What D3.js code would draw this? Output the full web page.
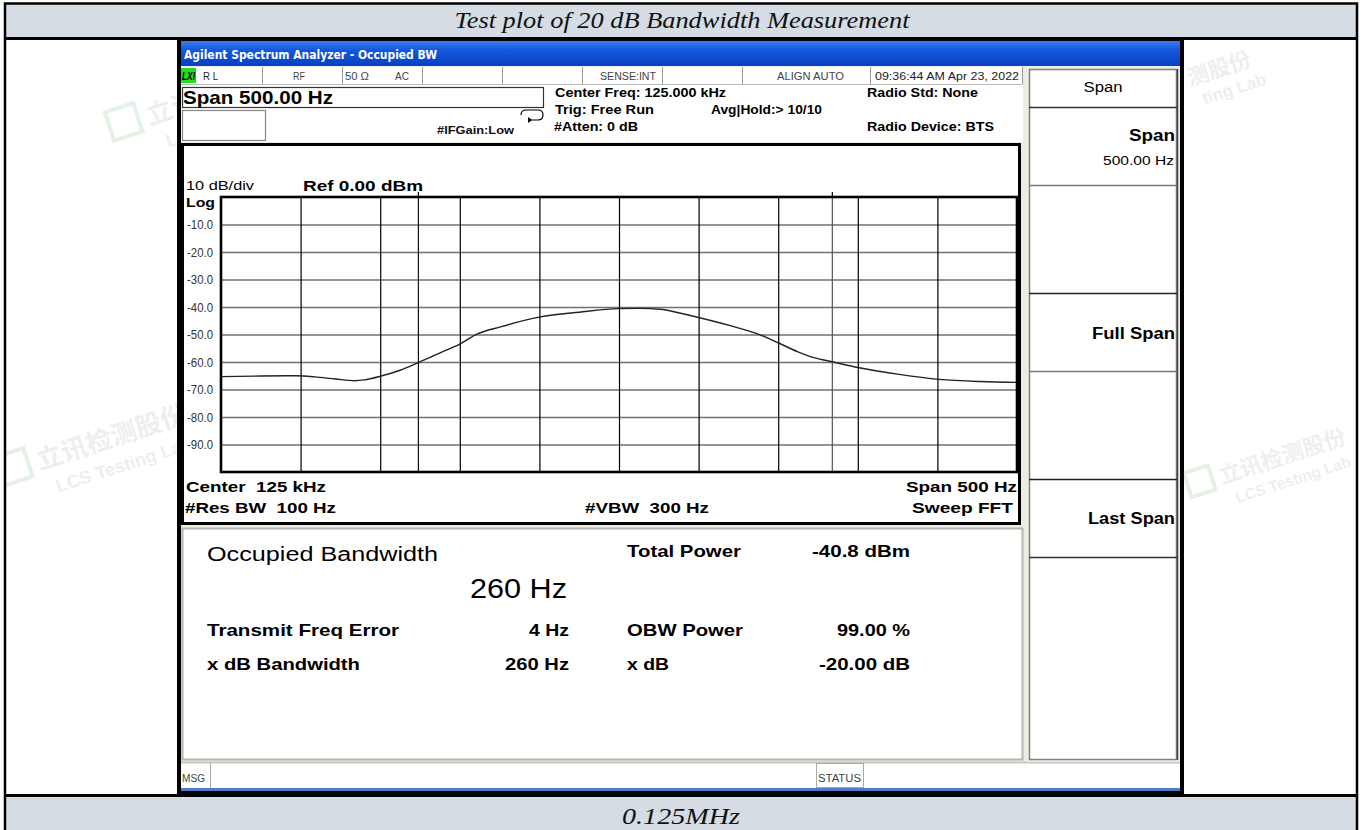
<!DOCTYPE html>
<html>
<head>
<meta charset="utf-8">
<script src="https://cdn.jsdelivr.net/npm/d3@7/dist/d3.min.js"></script>
<style>
html,body{margin:0;padding:0;background:#fff;}
svg{display:block;}
text{font-family:"Liberation Sans",Arial,sans-serif;white-space:pre;}
</style>
</head>
<body>
<svg id="c" width="1365" height="830"></svg>
<script>
// ---------------- DATA ----------------
const centerFreqKHz = 125;
const spanHz = 500;
const freqOffsetHz = [-250,-225,-203,-191,-178,-166,-160,-150,-138,-126,-112,-100,-89,-75,-50,-25,0,13,26,38,50,70,89,100,112,123,134,150,176,201,227,250];
const levelDbm     = [-65.3,-65.1,-65.0,-65.4,-66.2,-66.8,-66.5,-65.2,-63.1,-60.2,-56.6,-53.5,-49.8,-47.3,-43.7,-41.9,-40.6,-40.5,-40.8,-42.2,-43.8,-46.8,-50.2,-53.0,-56.2,-58.5,-59.9,-62.0,-64.5,-66.3,-67.1,-67.4];
const yTickValues  = [-10,-20,-30,-40,-50,-60,-70,-80,-90];
const xGridOffsets = [-200,-150,-100,-50,0,50,100,150,200];
const obwEdgesHz   = [-126,134];
const resultLabels = ["Transmit Freq Error","x dB Bandwidth"];
const resultValues = ["4 Hz","260 Hz"];
const resultLabels2 = ["OBW Power","x dB"];
const resultValues2 = ["99.00 %","-20.00 dB"];

// ---------------- DRAW ----------------
const svg = d3.select("#c");
const defs = svg.append("defs");

function txt(g, x, y, s, o = {}) {
  const t = g.append("text").attr("x", x).attr("y", y).text(s)
    .attr("font-size", o.size || 12)
    .attr("font-weight", o.weight || "normal")
    .attr("fill", o.fill || "#000")
    .attr("text-anchor", o.anchor || "start");
  if (o.family) t.style("font-family", o.family);
  if (o.italic) t.attr("font-style", "italic");
  if (o.len) t.attr("textLength", o.len).attr("lengthAdjust", "spacingAndGlyphs");
  return t;
}

// outer document table
svg.append("rect").attr("x",0).attr("y",0).attr("width",1365).attr("height",830).attr("fill","#fff");
svg.append("rect").attr("x",4).attr("y",3).attr("width",1353).attr("height",35).attr("fill","#d5dce4");
svg.append("rect").attr("x",4).attr("y",796).attr("width",1353).attr("height",40).attr("fill","#d5dce4");

// watermarks (faint), clipped to the white side cells
defs.append("clipPath").attr("id","leftCell").append("rect").attr("x",6).attr("y",40).attr("width",171).attr("height",755);
defs.append("clipPath").attr("id","rightCell").append("rect").attr("x",1184).attr("y",40).attr("width",172).attr("height",755);
function watermark(clip,x,y,sz){
  const g = svg.append("g").attr("clip-path",`url(#${clip})`).attr("opacity",0.12)
    .append("g").attr("transform",`translate(${x},${y}) rotate(-18)`);
  g.append("rect").attr("x",-sz*1.5).attr("y",-sz).attr("width",sz*1.15).attr("height",sz*1.15).attr("fill","none").attr("stroke","#2a9a3a").attr("stroke-width",4);
  txt(g,0,0,"立讯检测股份",{size:sz,weight:"bold",fill:"#777",family:"Noto Sans CJK SC"});
  txt(g,sz*0.4,sz*1.05,"LCS Testing Lab",{size:sz*0.7,weight:"bold",fill:"#777"});
}
watermark("leftCell",40,470,26);
watermark("leftCell",150,125,26);
watermark("rightCell",1222,484,22);
// top-right partial watermark (only the visible part)
const wtr = svg.append("g").attr("opacity",0.12).attr("transform","translate(1190,86) rotate(-18)");
txt(wtr,0,0,"测股份",{size:22,weight:"bold",fill:"#777",family:"Noto Sans CJK SC"});
txt(wtr,8,22,"ting Lab",{size:17,weight:"bold",fill:"#777"});

// table lines
const tl = svg.append("g").attr("stroke","#000").attr("fill","none");
tl.append("rect").attr("x",5).attr("y",3.5).attr("width",1352).attr("height",840).attr("stroke-width",2.5);
tl.append("line").attr("x1",4).attr("x2",1358).attr("y1",38.5).attr("y2",38.5).attr("stroke-width",3);
tl.append("line").attr("x1",4).attr("x2",1358).attr("y1",795.5).attr("y2",795.5).attr("stroke-width",3);

txt(svg,682,28,"Test plot of 20 dB Bandwidth Measurement",{size:23,italic:true,anchor:"middle",family:"Liberation Serif",len:455,fill:"#111"});
txt(svg,681,824,"0.125MHz",{size:23,italic:true,anchor:"middle",family:"Liberation Serif",len:118,fill:"#111"});

// ---------- screenshot ----------
const ss = svg.append("g");
ss.append("rect").attr("x",177).attr("y",38).attr("width",1007).attr("height",758).attr("fill","#000");
const grad = defs.append("linearGradient").attr("id","tb").attr("x1",0).attr("y1",0).attr("x2",0).attr("y2",1);
grad.append("stop").attr("offset","0").attr("stop-color","#3d7cf0");
grad.append("stop").attr("offset","0.35").attr("stop-color","#1458e0");
grad.append("stop").attr("offset","1").attr("stop-color","#0840c0");
ss.append("rect").attr("x",181).attr("y",41).attr("width",999).attr("height",25).attr("fill","url(#tb)");
ss.append("rect").attr("x",181).attr("y",66).attr("width",999).attr("height",723).attr("fill","#ecebe4");
ss.append("rect").attr("x",181).attr("y",788).attr("width",999).attr("height",3).attr("fill","#4a7ccc");
txt(ss,184,59,"Agilent Spectrum Analyzer - Occupied BW",{size:12,weight:"bold",fill:"#fff",len:253,family:"DejaVu Sans"});

// status row
ss.append("rect").attr("x",181).attr("y",67).attr("width",842).attr("height",17).attr("fill","#fff");
const cellEdges = [181,262,342,422,502,582,662,742,870,1022];
const sr = ss.append("g");
sr.selectAll("line").data(cellEdges.slice(1)).join("line")
  .attr("x1",d=>d+0.5).attr("x2",d=>d+0.5).attr("y1",67).attr("y2",84).attr("stroke","#9a9a9a");
sr.append("line").attr("x1",181).attr("x2",1022).attr("y1",84.5).attr("y2",84.5).attr("stroke","#bbb");
sr.append("rect").attr("x",181).attr("y",68).attr("width",15).attr("height",15).attr("fill","#22dd22");
txt(sr,182,80,"LXI",{size:10,weight:"bold",fill:"#000",len:13,italic:true});
txt(sr,203,80,"R L",{size:10,fill:"#222",len:15});
txt(sr,293,80,"RF",{size:10,fill:"#444",len:12});
txt(sr,345,80,"50 Ω",{size:10,fill:"#444",len:24});
txt(sr,395,80,"AC",{size:10,fill:"#444",len:14});
txt(sr,600,80,"SENSE:INT",{size:10,fill:"#444",len:56});
txt(sr,777,80,"ALIGN AUTO",{size:10,fill:"#444",len:67});
txt(sr,875,80,"09:36:44 AM Apr 23, 2022",{size:10,fill:"#222",len:144});

// info area
ss.append("rect").attr("x",181).attr("y",85).attr("width",842).attr("height",57).attr("fill","#fff");
ss.append("rect").attr("x",182.5).attr("y",87.5).attr("width",361).attr("height",20).attr("fill","#fff").attr("stroke","#333").attr("stroke-width",1.2);
ss.append("rect").attr("x",182.5).attr("y",110.5).attr("width",83).attr("height",30).attr("fill","#fff").attr("stroke","#888").attr("stroke-width",1.2);
txt(ss,183,104,"Span 500.00 Hz",{size:19,weight:"bold",fill:"#000",len:150});
txt(ss,437,134,"#IFGain:Low",{size:11,weight:"bold",fill:"#111",len:77});
// loop icon
ss.append("path").attr("d","M521,115 q0,-5 5,-5 h12 q5,0 5,5 q0,5 -5,5 h-10").attr("fill","none").attr("stroke","#000").attr("stroke-width",1.2);
ss.append("path").attr("d","M528,117 l4,3 l-4,3 z").attr("fill","#000");
txt(ss,555,97,"Center Freq: 125.000 kHz",{size:12.5,weight:"bold",len:171});
txt(ss,555,114,"Trig: Free Run",{size:12.5,weight:"bold",len:99});
txt(ss,554,131,"#Atten: 0 dB",{size:12.5,weight:"bold",len:84});
txt(ss,711,114,"Avg|Hold:> 10/10",{size:12.5,weight:"bold",len:111});
txt(ss,867,97,"Radio Std: None",{size:12.5,weight:"bold",len:111});
txt(ss,867,131,"Radio Device: BTS",{size:12.5,weight:"bold",len:127});

// ---------- plot frame ----------
ss.append("rect").attr("x",182.5).attr("y",144.5).attr("width",837).attr("height",379).attr("fill","#fff").attr("stroke","#000").attr("stroke-width",3);

const x = d3.scaleLinear().domain([-spanHz/2, spanHz/2]).range([221,1017]);
const y = d3.scaleLinear().domain([0,-100]).range([197,472]);
const plot = ss.append("g");

// horizontal grid via axis
const yAxis = d3.axisLeft(y).tickValues(yTickValues).tickSize(-(x.range()[1]-x.range()[0])).tickFormat(d=>d.toFixed(1));
const ya = plot.append("g").attr("transform",`translate(${x.range()[0]},0)`).call(yAxis);
ya.select(".domain").remove();
ya.selectAll(".tick line").attr("stroke","#707070").attr("stroke-width",1.6);
ya.selectAll(".tick text").attr("x",-34).attr("text-anchor","start").attr("fill","#333")
  .attr("font-size",12).style("font-family","'Liberation Sans',Arial,sans-serif").attr("dy","0.35em")
  .attr("textLength",26).attr("lengthAdjust","spacingAndGlyphs");

// vertical grid via axis
const xAxis = d3.axisBottom(x).tickValues(xGridOffsets).tickSize(-(y.range()[1]-y.range()[0])).tickFormat("");
const xa = plot.append("g").attr("transform",`translate(0,${y.range()[1]})`).call(xAxis);
xa.select(".domain").remove();
xa.selectAll(".tick line").attr("stroke","#000").attr("stroke-width",1.2);

// OBW edge lines
plot.selectAll("line.obw").data(obwEdgesHz).join("line").attr("class","obw")
  .attr("x1",d=>x(d)).attr("x2",d=>x(d)).attr("y1",y(0)).attr("y2",y(-100))
  .attr("stroke",(d,i)=>i===0?"#111":"#555").attr("stroke-width",1.2);
plot.selectAll("line.obwtick").data(obwEdgesHz).join("line").attr("class","obwtick")
  .attr("x1",d=>x(d)).attr("x2",d=>x(d)).attr("y1",y(0)-5).attr("y2",y(0))
  .attr("stroke","#000").attr("stroke-width",1.2);

// trace
const line = d3.line().x((d,i)=>x(freqOffsetHz[i])).y(d=>y(d)).curve(d3.curveMonotoneX);
plot.append("path").datum(levelDbm).attr("d",line).attr("fill","none").attr("stroke","#222").attr("stroke-width",1.4);

// graticule border
plot.append("rect").attr("x",221).attr("y",197).attr("width",796).attr("height",275).attr("fill","none").attr("stroke","#000").attr("stroke-width",2.6);

// plot labels
txt(ss,186,190,"10 dB/div",{size:13,len:68});
txt(ss,303,191,"Ref 0.00 dBm",{size:15,weight:"bold",len:120});
txt(ss,186,207,"Log",{size:13,weight:"bold",len:29});
txt(ss,186,492,"Center  125 kHz",{size:15,weight:"bold",len:140});
txt(ss,185,513,"#Res BW  100 Hz",{size:15,weight:"bold",len:151});
txt(ss,585,513,"#VBW  300 Hz",{size:15,weight:"bold",len:124});
txt(ss,1017,492,"Span 500 Hz",{size:15,weight:"bold",anchor:"end",len:111});
txt(ss,1013,513,"Sweep FFT",{size:15,weight:"bold",anchor:"end",len:101});

// ---------- results panel ----------
ss.append("rect").attr("x",182.5).attr("y",528.5).attr("width",840).attr("height",231).attr("fill","#fff").attr("stroke","#b8b6ac").attr("stroke-width",2);
txt(ss,207,561,"Occupied Bandwidth",{size:20,len:231});
txt(ss,470,598,"260 Hz",{size:27,len:97});
txt(ss,627,557,"Total Power",{size:17,weight:"bold",len:114});
txt(ss,910,557,"-40.8 dBm",{size:17,weight:"bold",anchor:"end",len:98});
const rows = ss.append("g");
const rowY = [636,670];
resultLabels.forEach((s,i)=>txt(rows,207,rowY[i],s,{size:17,weight:"bold",len:[192,153][i]}));
resultValues.forEach((s,i)=>txt(rows,569,rowY[i],s,{size:17,weight:"bold",anchor:"end",len:[40,64][i]}));
resultLabels2.forEach((s,i)=>txt(rows,627,rowY[i],s,{size:17,weight:"bold",len:[116,42][i]}));
resultValues2.forEach((s,i)=>txt(rows,910,rowY[i],s,{size:17,weight:"bold",anchor:"end",len:[73,91][i]}));

// MSG bar
ss.append("rect").attr("x",181).attr("y",763).attr("width",999).attr("height",25).attr("fill","#fff");
ss.append("line").attr("x1",181).attr("x2",1180).attr("y1",762.5).attr("y2",762.5).attr("stroke","#c8c6bc").attr("stroke-width",2);
ss.append("line").attr("x1",210.5).attr("x2",210.5).attr("y1",763).attr("y2",788).attr("stroke","#aaa");
ss.append("rect").attr("x",816.5).attr("y",763.5).attr("width",47).attr("height",24).attr("fill","#fff").attr("stroke","#aaa");
txt(ss,182,782,"MSG",{size:10,fill:"#444",len:23});
txt(ss,818,782,"STATUS",{size:10,fill:"#444",len:43});

// ---------- softkey panel ----------
const sk = ss.append("g");
sk.append("rect").attr("x",1027).attr("y",68).attr("width",153).attr("height",694).attr("fill","#ecebe4");
sk.append("rect").attr("x",1029.5).attr("y",69.5).attr("width",147).attr("height",690).attr("fill","#fff").attr("stroke","#808080").attr("stroke-width",1.5);
const btnLines = [[107.5,"#333"],[185.5,"#777"],[293.5,"#222"],[371.5,"#777"],[479.5,"#222"],[557.5,"#333"]];
btnLines.forEach(([yy,c])=>sk.append("line").attr("x1",1029).attr("x2",1177).attr("y1",yy).attr("y2",yy).attr("stroke",c).attr("stroke-width",1.5));
sk.append("line").attr("x1",1177.5).attr("x2",1177.5).attr("y1",69).attr("y2",760).attr("stroke","#444").attr("stroke-width",1.5);
txt(sk,1103,92,"Span",{size:14,anchor:"middle",len:39});
txt(sk,1175,141,"Span",{size:16,weight:"bold",anchor:"end",len:46});
txt(sk,1174,165,"500.00 Hz",{size:13,anchor:"end",len:71});
txt(sk,1175,339,"Full Span",{size:16,weight:"bold",anchor:"end",len:83});
txt(sk,1175,524,"Last Span",{size:16,weight:"bold",anchor:"end",len:87});
</script>
</body>
</html>
